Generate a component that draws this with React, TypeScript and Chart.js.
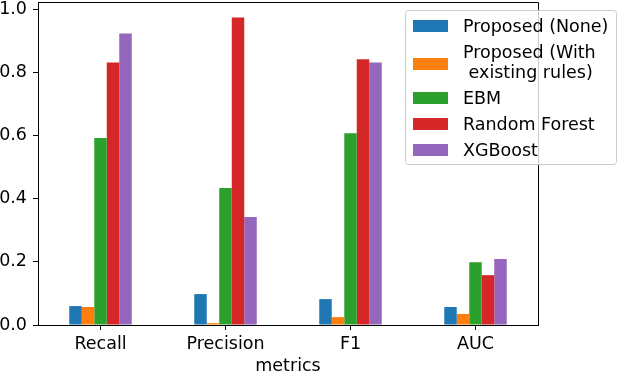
import React, { useEffect, useRef } from 'react';
import { Chart, registerables } from 'chart.js';

Chart.register(...registerables);

const categories = ['Recall', 'Precision', 'F1', 'AUC'];
const seriesNames = ['Proposed (None)', 'Proposed (With\n existing rules)', 'EBM', 'Random Forest', 'XGBoost'];
const proposedNone = [0.060, 0.098, 0.082, 0.057];
const proposedRules = [0.057, 0.006, 0.025, 0.035];
const ebm = [0.593, 0.434, 0.608, 0.199];
const randomForest = [0.832, 0.975, 0.842, 0.158];
const xgboost = [0.924, 0.342, 0.832, 0.209];
const seriesColors = ['#1f77b4', '#ff7f0e', '#2ca02c', '#d62728', '#9467bd'];
const yTickValues = [0, 0.2, 0.4, 0.6, 0.8, 1.0];
const xTitle = 'metrics';

const FONT = "'DejaVu Sans', sans-serif";
const FS = 17.5;

const framePlugin = {
  id: 'frame',
  afterDatasetsDraw(chart: any) {
    const { ctx, chartArea } = chart;
    const l = Math.round(chartArea.left) + 0.5;
    const r = Math.round(chartArea.right) + 0.5;
    const t = Math.round(chartArea.top) + 0.5;
    const b = Math.round(chartArea.bottom) + 0.5;
    ctx.save();
    ctx.strokeStyle = '#000';
    ctx.lineWidth = 1;
    ctx.beginPath();
    ctx.moveTo(l, b);
    ctx.lineTo(l, t);
    ctx.lineTo(r, t);
    ctx.lineTo(r, b);
    ctx.lineTo(l, b);
    ctx.stroke();
    ctx.restore();
  },
};

const legendPlugin = {
  id: 'mplLegend',
  afterDraw(chart: any) {
    const { ctx } = chart;
    const bx = 405.5, by = 10.5, bw = 211, bh = 154, r = 3;
    ctx.save();
    ctx.beginPath();
    ctx.moveTo(bx + r, by);
    ctx.lineTo(bx + bw - r, by);
    ctx.quadraticCurveTo(bx + bw, by, bx + bw, by + r);
    ctx.lineTo(bx + bw, by + bh - r);
    ctx.quadraticCurveTo(bx + bw, by + bh, bx + bw - r, by + bh);
    ctx.lineTo(bx + r, by + bh);
    ctx.quadraticCurveTo(bx, by + bh, bx, by + bh - r);
    ctx.lineTo(bx, by + r);
    ctx.quadraticCurveTo(bx, by, bx + r, by);
    ctx.closePath();
    ctx.fillStyle = 'rgba(255,255,255,0.8)';
    ctx.fill();
    ctx.strokeStyle = '#cccccc';
    ctx.lineWidth = 1;
    ctx.stroke();

    ctx.font = `${FS}px ${FONT}`;
    ctx.textBaseline = 'alphabetic';
    ctx.textAlign = 'left';
    let base = 32;
    chart.data.datasets.forEach((ds: any) => {
      const lines = String(ds.label).split('\n');
      const last = base + (lines.length - 1) * 20;
      const center = (base + last) / 2 - 6.5 + (lines.length > 1 ? 2.5 : 0);
      ctx.fillStyle = ds.backgroundColor;
      ctx.fillRect(413, Math.round(center - 6), 35, 12);
      ctx.fillStyle = '#000';
      lines.forEach((ln: string, i: number) => {
        ctx.fillText(ln, 463, base + i * 20);
      });
      base = last + 26;
    });
    ctx.restore();
  },
};

export default function App() {
  const ref = useRef<HTMLCanvasElement>(null);
  useEffect(() => {
    document.body.style.margin = '0';
    const values = [proposedNone, proposedRules, ebm, randomForest, xgboost];
    const chart = new Chart(ref.current as HTMLCanvasElement, {
      type: 'bar',
      data: {
        labels: categories,
        datasets: values.map((v, i) => ({
          label: seriesNames[i],
          data: v,
          backgroundColor: seriesColors[i],
          borderWidth: 0,
          barPercentage: 1,
          categoryPercentage: 0.5,
        })),
      },
      options: {
        animation: false,
        responsive: false,
        devicePixelRatio: 1,
        layout: { padding: { top: 2, right: 82, left: 0, bottom: 0 } },
        plugins: { legend: { display: false }, tooltip: { enabled: false } },
        scales: {
          x: {
            type: 'category',
            offset: true,
            grid: { drawOnChartArea: false, drawTicks: true, tickLength: 5, color: '#000', offset: false },
            border: { display: true, color: '#000', width: 1 },
            ticks: { color: '#000', font: { family: FONT, size: FS }, padding: 4, maxRotation: 0 },
            title: { display: true, text: xTitle, color: '#000', font: { family: FONT, size: FS }, padding: { top: 0, bottom: -3 } },
            afterFit: (s: any) => {
              s.height = 49;
              s.paddingLeft = 0;
              s.paddingRight = 0;
            },
          },
          y: {
            min: 0,
            max: 1.0238,
            grid: { drawOnChartArea: false, drawTicks: true, tickLength: 5, color: '#000' },
            border: { display: true, color: '#000', width: 1 },
            afterBuildTicks: (s: any) => { s.ticks = yTickValues.map((v) => ({ value: v })); },
            ticks: {
              color: '#000',
              font: { family: FONT, size: FS },
              padding: 6,
              callback: (v: any) => Number(v).toFixed(1),
            },
            afterFit: (s: any) => {
              s.width = 38;
              s.paddingTop = 0;
              s.paddingBottom = 0;
            },
          },
        },
      },
      plugins: [framePlugin, legendPlugin],
    });
    return () => chart.destroy();
  }, []);
  return <canvas ref={ref} width={620} height={374} style={{ display: 'block' }} />;
}
